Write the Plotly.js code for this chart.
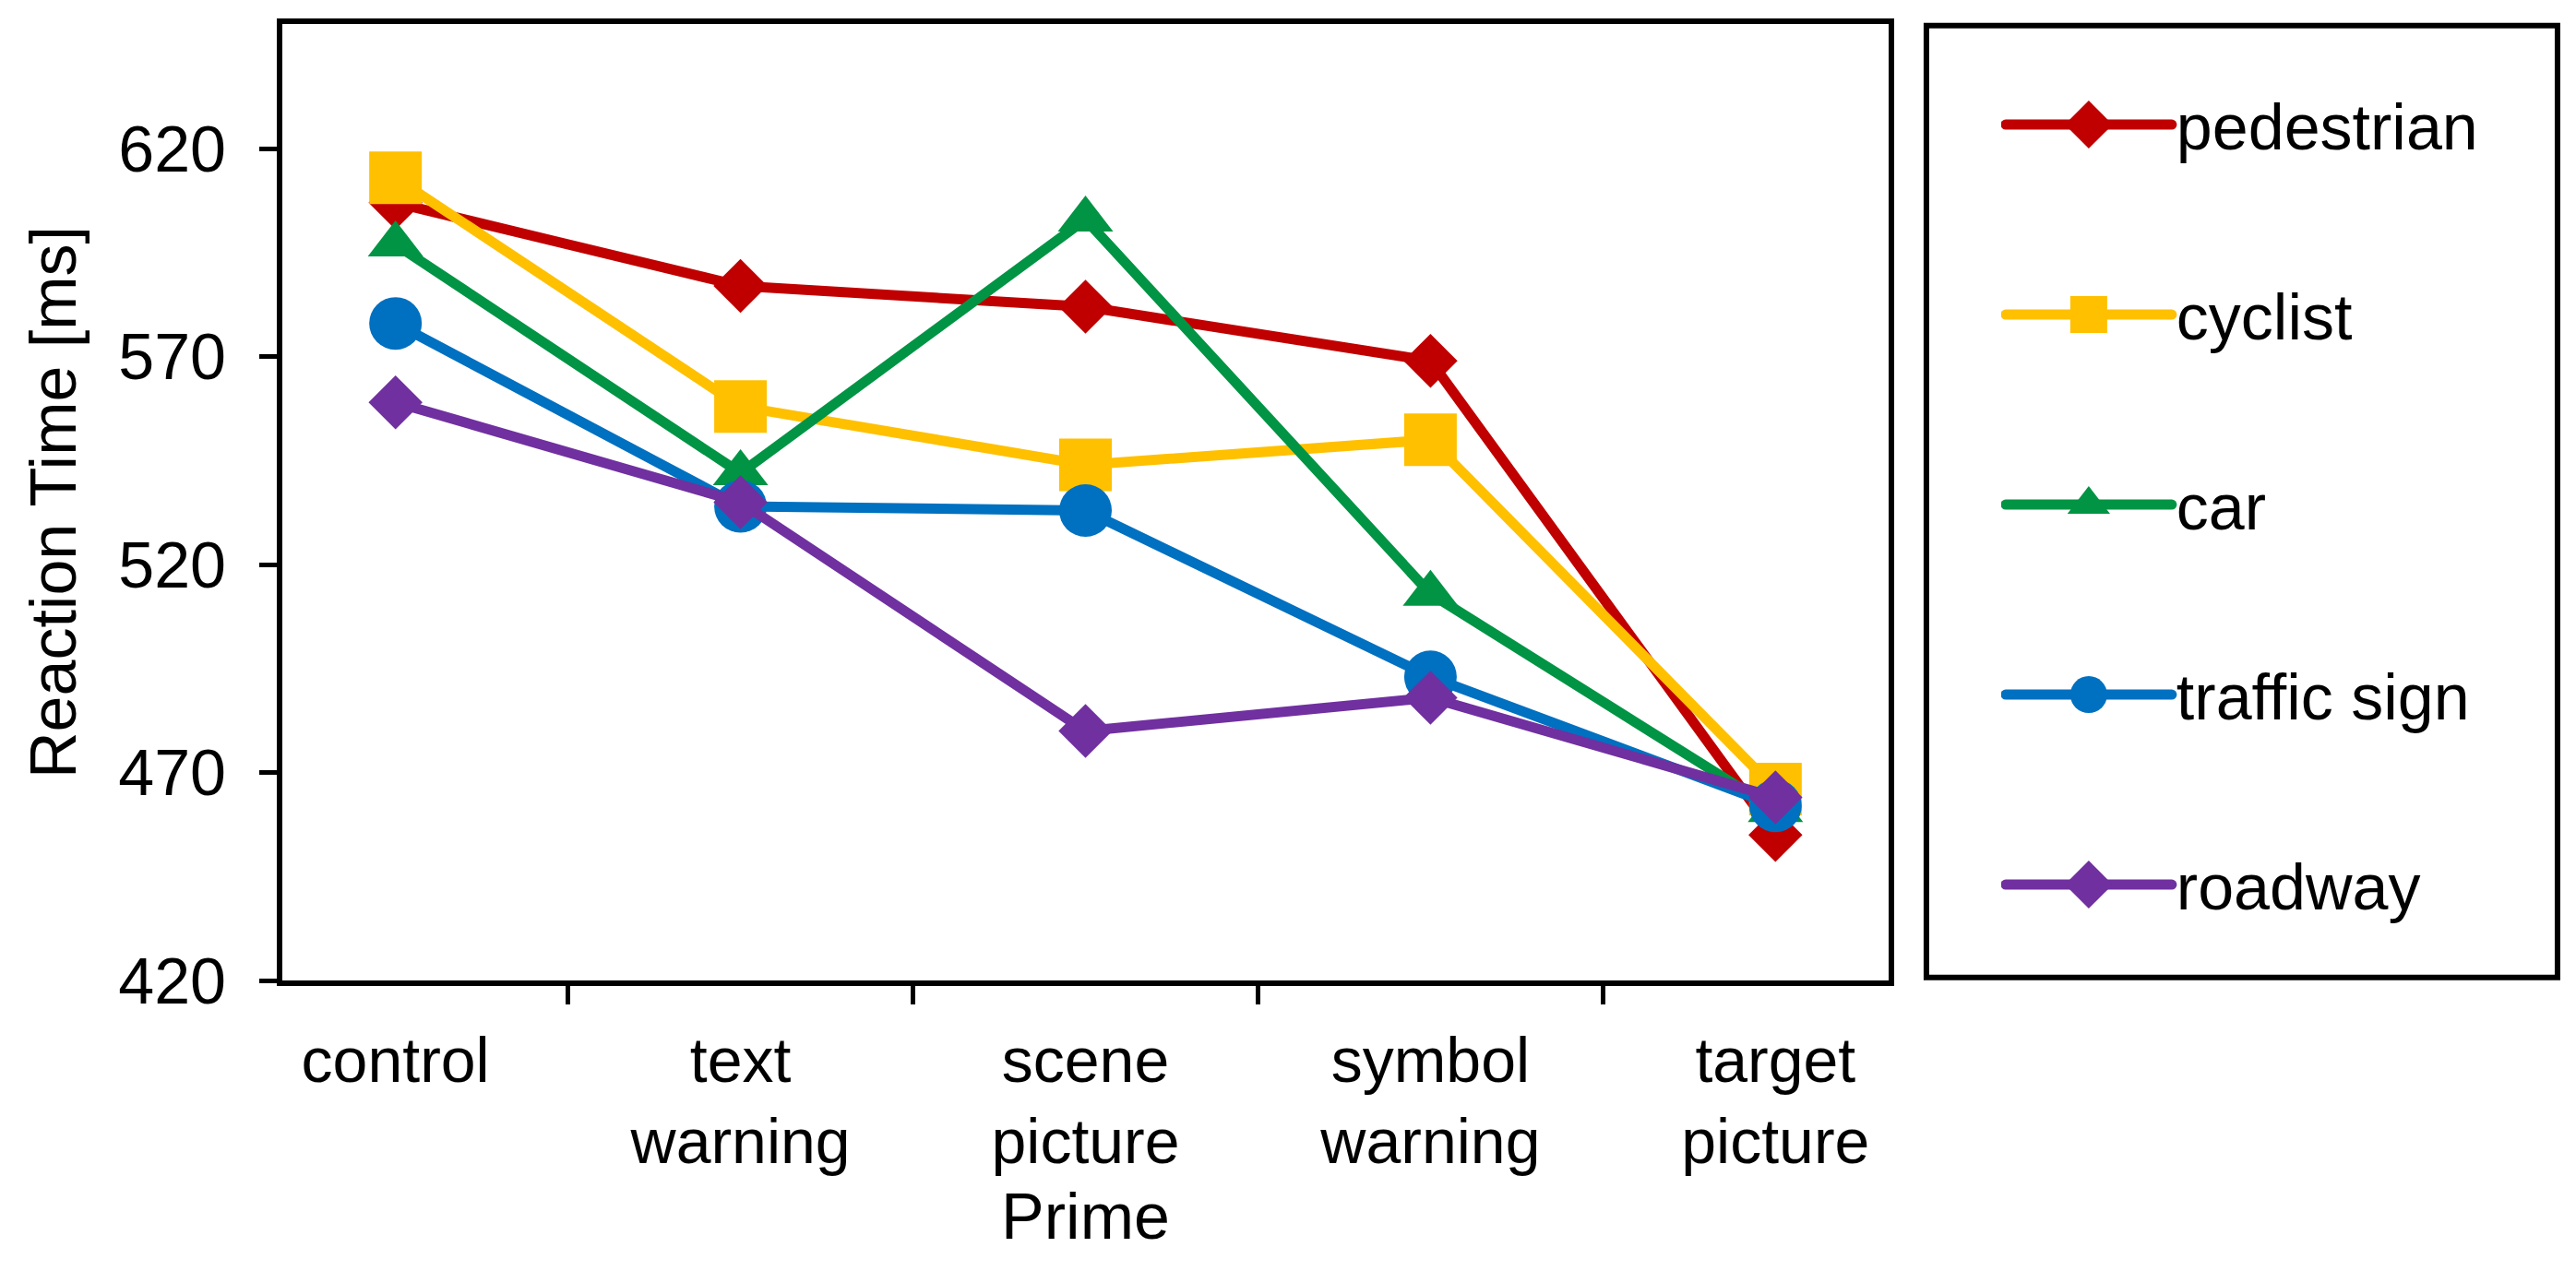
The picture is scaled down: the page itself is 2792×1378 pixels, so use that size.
<!DOCTYPE html>
<html>
<head>
<meta charset="utf-8">
<script src="https://cdn.plot.ly/plotly-3.0.1.min.js"></script>
<style>
  html, body { margin: 0; padding: 0; background: #fff; }
  #chart { width: 2792px; height: 1378px; }
</style>
</head>
<body>
<div id="chart"></div>
<script>
// categories (Prime conditions)
var primes = ["control", "text<br>warning", "scene<br>picture", "symbol<br>warning", "target<br>picture"];

// reaction time [ms] per target type
var pedestrian  = [607, 587, 582, 569, 455];
var cyclist     = [613, 558, 544, 550, 466];
var car         = [597, 542, 603, 513, 461];
var trafficSign = [578, 534, 533, 493, 462];
var roadway     = [559, 535, 480, 488, 464];

var seriesNames = ["pedestrian", "cyclist", "car", "traffic sign", "roadway"];
var seriesVals  = [pedestrian, cyclist, car, trafficSign, roadway];
var colors  = ["#C00000", "#FFC000", "#009444", "#0070C0", "#7030A0"];
var symbols = ["diamond", "square", "triangle-up", "circle", "diamond"];
var sizes   = [45, 57, 52, 57, 45];

var yTicks = [420, 470, 520, 570, 620];

var font = "Liberation Sans, Arial, sans-serif";

var traces = seriesNames.map(function (name, i) {
  return {
    type: "scatter",
    mode: "lines+markers",
    name: name,
    legendgroup: "g" + i,
    x: primes,
    y: seriesVals[i],
    line: {color: colors[i], width: 11},
    marker: {symbol: symbols[i], size: sizes[i], color: colors[i]},
    cliponaxis: false
  };
});

var layout = {
  width: 2792,
  height: 1378,
  paper_bgcolor: "#fff",
  plot_bgcolor: "#fff",
  margin: {l: 306, r: 745, t: 26, b: 315},
  font: {family: font, size: 70, color: "#000"},
  showlegend: true,
  legend: {
    x: 1.07, xanchor: "left",
    y: 0.945, yanchor: "top",
    traceorder: "grouped",
    tracegroupgap: 112,
    itemwidth: 180,
    font: {family: font, size: 70, color: "#000"},
    bgcolor: "rgba(0,0,0,0)",
    borderwidth: 0
  },
  shapes: [{
    type: "rect", xref: "paper", yref: "paper",
    x0: 1.0235, x1: 1.4164, y0: 0.0031, y1: 0.9984,
    line: {color: "#000", width: 6}
  }],
  xaxis: {
    type: "category",
    showline: true, linecolor: "#000", linewidth: 6, mirror: true,
    ticks: "outside", ticklen: 20, tickwidth: 5, tickcolor: "#000",
    tickson: "boundaries",
    ticklabelstandoff: 22,
    showgrid: false, zeroline: false,
    tickfont: {family: font, size: 68},
    title: {text: "Prime", font: {family: font, size: 70}, standoff: 22},
    automargin: false
  },
  yaxis: {
    range: [420, 650],
    tickvals: yTicks,
    ticktext: yTicks.map(String),
    showline: true, linecolor: "#000", linewidth: 6, mirror: true,
    ticks: "outside", ticklen: 19, tickwidth: 5, tickcolor: "#000",
    ticklabelstandoff: 22,
    showgrid: false, zeroline: false,
    tickfont: {family: font, size: 70},
    title: {text: "Reaction Time [ms]", font: {family: font, size: 70}, standoff: 25},
    automargin: false
  }
};

function fixLegend(gd) {
  // plotly caps legend symbol size and line width; bring them up to the figure's look
  gd.querySelectorAll(".legend .legendpoints path.scatterpts").forEach(function (p) {
    if (p.getAttribute("data-big")) return;
    var t = p.getAttribute("transform") || "";
    p.setAttribute("transform", t + " scale(2.5)");
    p.setAttribute("data-big", "1");
  });
  gd.querySelectorAll(".legend .legendlines path").forEach(function (p) {
    p.setAttribute("stroke-width", "11");
    p.style.setProperty("stroke-width", "11px", "important");
    p.style.setProperty("stroke-linecap", "round");
  });
}

var gd = document.getElementById("chart");
Plotly.newPlot(gd, traces, layout, {staticPlot: true}).then(function () {
  fixLegend(gd);
  setTimeout(function () { fixLegend(gd); }, 50);
});
</script>
</body>
</html>
